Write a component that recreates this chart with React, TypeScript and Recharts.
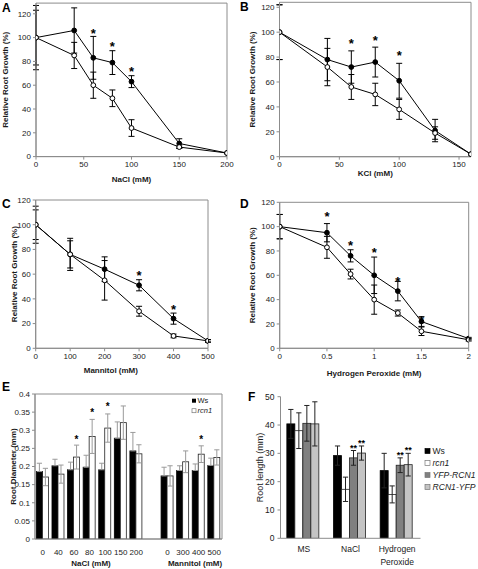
import React from "react";
import {
  Bar,
  BarChart,
  ErrorBar,
  Line,
  LineChart,
  ReferenceArea,
  XAxis,
  YAxis,
} from "recharts";

const FONT = "'Liberation Sans', Arial, Helvetica, sans-serif";
const AXIS = "#8c8c8c";
const INK = "#1a1a1a";

// A: NaCl dose response
const naclDose = [0, 40, 60, 80, 100, 150, 200];
const naclWs = [100, 106, 83, 79, 63, 11, 3];
const naclWsSd = [27, 19, 18, 10, 5, 4, 0];
const naclRcn = [100, 85, 60, 49, 24, 8, 3];
const naclRcnSd = [23, 11, 11, 7, 7, 1, 0];
const naclStar = [null, null, 106, 95, 74, null, null];

// B: KCl dose response
const kclDose = [0, 40, 60, 80, 100, 130, 160];
const kclWs = [100, 78, 72, 76, 61, 21, 2];
const kclWsSd = [22, 17, 13, 12, 14, 9, 0];
const kclRcn = [100, 72, 56, 50, 38, 19, 2];
const kclRcnSd = [22, 15, 10, 9, 8, 5, 0];
const kclStar = [null, null, 93, 96, 84, null, null];

// C: Mannitol dose response
const mannDose = [0, 100, 200, 300, 400, 500];
const mannWs = [100, 76, 64, 51, 24, 6];
const mannWsSd = [15, 13, 10, 4.5, 4.5, 1];
const mannRcn = [100, 76, 55, 30, 10, 6];
const mannRcnSd = [12, 11, 16, 4, 1.5, 1];
const mannStar = [null, null, null, 61, 34, null];

// D: hydrogen peroxide dose response
const h2o2Dose = [0, 0.5, 0.75, 1, 1.25, 1.5, 2];
const h2o2Ws = [100, 95, 76, 60, 47, 22, 8];
const h2o2WsSd = [10, 7.5, 5, 15, 8, 4, 1];
const h2o2Rcn = [100, 83, 61, 40, 29, 14, 7];
const h2o2RcnSd = [10, 9, 4, 12, 2.5, 3.5, 1];
const h2o2Star = [null, 111, 87, 81, 57, 25.5, null];

const growthTicks = [0, 20, 40, 60, 80, 100, 120];

// E: root diameter
const diamLabels = ["0", "40", "60", "80", "100", "150", "200", "", "0", "300", "400", "500"];
const diamWs = [0.186, 0.202, 0.191, 0.198, 0.191, 0.278, 0.243, null, 0.174, 0.189, 0.189, 0.203];
const diamWsSd = [0.023, 0.018, 0.021, 0.033, 0.018, 0.045, 0.051, null, 0.024, 0.013, 0.018, 0.02];
const diamRcn = [0.171, 0.179, 0.226, 0.283, 0.306, 0.321, 0.235, null, 0.174, 0.213, 0.234, 0.225];
const diamRcnSd = [0.024, 0.025, 0.033, 0.047, 0.039, 0.046, 0.025, null, 0.028, 0.03, 0.023, 0.021];
const diamStar = [null, null, 0.281, 0.354, 0.372, null, null, null, null, null, 0.281, null];
const diamTicks = [0, 0.05, 0.1, 0.15, 0.2, 0.25, 0.3, 0.35, 0.4];

// F: root length
const lenGroups = ["MS", "NaCl", "Hydrogen Peroxide"];
const lenWs = [40.4, 29.2, 23.9];
const lenWsSd = [5.1, 3.4, 6.1];
const lenRcn = [38.0, 17.3, 15.5];
const lenRcnSd = [6.3, 4.3, 3.0];
const lenYfp = [40.6, 28.4, 25.8];
const lenYfpSd = [6.3, 2.6, 2.6];
const lenYfpStar = [null, 32.7, 30.2];
const lenRyfp = [40.4, 30.1, 26.0];
const lenRyfpSd = [7.8, 2.5, 4.0];
const lenRyfpStar = [null, 34.5, 32.0];
const lenTicks = [0, 10, 20, 30, 40, 50];

function doseRows(
  dose: number[],
  ws: number[],
  wsSd: number[],
  rcn: number[],
  rcnSd: number[],
  star: (number | null)[]
) {
  return dose.map((x, i) => ({
    x,
    ws: ws[i],
    wsSd: wsSd[i],
    rcn: rcn[i],
    rcnSd: rcnSd[i],
    star: star[i],
  }));
}

// Ws error bars in E only show the upper half above the black bar
const diamRows = diamLabels.map((label, i) => ({
  label,
  ws: diamWs[i],
  wsSd: diamWsSd[i] == null ? null : [0, diamWsSd[i]],
  rcn: diamRcn[i],
  rcnSd: diamRcnSd[i],
  star: diamStar[i],
}));

const lenRows = lenGroups.map((label, i) => ({
  label,
  ws: lenWs[i],
  wsSd: lenWsSd[i],
  rcn: lenRcn[i],
  rcnSd: lenRcnSd[i],
  yfp: lenYfp[i],
  yfpSd: lenYfpSd[i],
  yfpStar: lenYfpStar[i],
  ryfp: lenRyfp[i],
  ryfpSd: lenRyfpSd[i],
  ryfpStar: lenRyfpStar[i],
}));

const StarDot = (props: any) => {
  const { cx, cy, value, index } = props;
  if (value == null || cx == null || cy == null || isNaN(cy)) return <g key={`s-${index}`} />;
  return (
    <text
      key={`s-${index}`}
      x={cx}
      y={cy + 7.5}
      textAnchor="middle"
      fontSize={13}
      fontWeight="bold"
      fill="#000"
    >
      *
    </text>
  );
};

// bar with an optional significance mark, placed through the bar's own scale
function markedBar(valueKey: string, starKey: string | null, mark: string, fontSize: number) {
  return (props: any) => {
    const { x, y, width, height, payload, fill, stroke } = props;
    const v = payload?.[valueKey];
    if (v == null || height == null || isNaN(height)) return <g />;
    const k = height / v;
    const s = starKey ? payload[starKey] : null;
    return (
      <g>
        <rect x={x} y={y} width={width} height={height} fill={fill} stroke={stroke} strokeWidth={0.8} />
        {s != null && (
          <text
            x={x + width / 2}
            y={y + height - s * k + fontSize * 0.58}
            textAnchor="middle"
            fontSize={fontSize}
            fontWeight="bold"
            fill="#000"
          >
            {mark}
          </text>
        )}
      </g>
    );
  };
}

interface DoseProps {
  left: number;
  top: number;
  rows: ReturnType<typeof doseRows>;
  margin: { top: number; right: number; bottom: number; left: number };
  yWidth: number;
  xHeight: number;
  yMax: number;
  xMax: number;
  xTicks: number[];
  xTitle: string;
  xTitleOffset: number;
  xTitleDx?: number;
  yTitleOffset: number;
}

function DoseChart(p: DoseProps) {
  return (
    <div style={{ position: "absolute", left: p.left, top: p.top }}>
      <LineChart width={239} height={190} data={p.rows} margin={p.margin}>
        <ReferenceArea y1={0} y2={p.yMax} fill="none" stroke={AXIS} strokeWidth={1} ifOverflow="visible" />
        <XAxis
          dataKey="x"
          type="number"
          domain={[0, p.xMax]}
          ticks={p.xTicks}
          allowDataOverflow
          height={p.xHeight}
          stroke={AXIS}
          tickSize={3}
          tickMargin={2}
          tick={{ fill: INK, fontSize: 8 }}
          label={{
            value: p.xTitle,
            position: "insideBottom",
            offset: p.xTitleOffset,
            dx: p.xTitleDx ?? 0,
            fill: INK,
            fontSize: 8,
            fontWeight: "bold",
          }}
        />
        <YAxis
          type="number"
          domain={[0, p.yMax]}
          ticks={growthTicks}
          allowDataOverflow
          width={p.yWidth}
          stroke={AXIS}
          tickSize={3}
          tickMargin={2}
          tick={{ fill: INK, fontSize: 8 }}
          label={{
            value: "Relative Root Growth (%)",
            angle: -90,
            position: "insideLeft",
            offset: p.yTitleOffset,
            style: { textAnchor: "middle" },
            fill: INK,
            fontSize: 8,
            fontWeight: "bold",
          }}
        />
        <Line
          dataKey="ws"
          stroke="#000"
          strokeWidth={1}
          dot={{ r: 2.4, fill: "#000", stroke: "#000", strokeWidth: 1 }}
          activeDot={false}
          isAnimationActive={false}
        >
          <ErrorBar dataKey="wsSd" width={3} stroke="#000" strokeWidth={1} />
        </Line>
        <Line
          dataKey="rcn"
          stroke="#000"
          strokeWidth={1}
          dot={{ r: 2.4, fill: "#fff", stroke: "#000", strokeWidth: 1 }}
          activeDot={false}
          isAnimationActive={false}
        >
          <ErrorBar dataKey="rcnSd" width={3} stroke="#000" strokeWidth={1} />
        </Line>
        <Line
          dataKey="star"
          stroke="none"
          dot={StarDot}
          activeDot={false}
          isAnimationActive={false}
        />
      </LineChart>
    </div>
  );
}

function GroupTick(props: any) {
  const { x, y, payload } = props;
  const words = String(payload.value).split(" ");
  return (
    <text x={x} y={y} textAnchor="middle" fill={INK} fontSize={8.5}>
      {words.map((w, i) => (
        <tspan key={i} x={x} dy={i === 0 ? "0.71em" : 12.5}>
          {w}
        </tspan>
      ))}
    </text>
  );
}

const diamRcnShape = markedBar("rcn", "star", "*", 10);
const diamWsShape = markedBar("ws", null, "", 10);
const lenWsShape = markedBar("ws", null, "", 9);
const lenRcnShape = markedBar("rcn", null, "", 9);
const lenYfpShape = markedBar("yfp", "yfpStar", "**", 9);
const lenRyfpShape = markedBar("ryfp", "ryfpStar", "**", 9);

const lenLegend = [
  { name: "Ws", fill: "#000", italic: false },
  { name: "rcn1", fill: "#fff", italic: true },
  { name: "YFP-RCN1", fill: "#808080", italic: true },
  { name: "RCN1-YFP", fill: "#c4c4c4", italic: true },
];

export default function App() {
  return (
    <div
      style={{
        position: "absolute",
        left: 0,
        top: 0,
        width: 478,
        height: 569,
        background: "#fff",
        overflow: "hidden",
        fontFamily: FONT,
      }}
    >
      <DoseChart
        left={0}
        top={0}
        rows={doseRows(naclDose, naclWs, naclWsSd, naclRcn, naclRcnSd, naclStar)}
        margin={{ top: 3.1, right: 12, bottom: 0, left: 0 }}
        yWidth={36}
        xHeight={33.4}
        yMax={129}
        xMax={200}
        xTicks={[0, 50, 100, 150, 200]}
        xTitle="NaCl (mM)"
        xTitleOffset={8}
        yTitleOffset={5.5}
      />
      <DoseChart
        left={239}
        top={0}
        rows={doseRows(kclDose, kclWs, kclWsSd, kclRcn, kclRcnSd, kclStar)}
        margin={{ top: 2.3, right: 7, bottom: 0, left: 0 }}
        yWidth={40.5}
        xHeight={33.3}
        yMax={124}
        xMax={160}
        xTicks={[0, 50, 100, 150]}
        xTitle="KCl (mM)"
        xTitleOffset={14.5}
        yTitleOffset={13}
      />
      <DoseChart
        left={0}
        top={188}
        rows={doseRows(mannDose, mannWs, mannWsSd, mannRcn, mannRcnSd, mannStar)}
        margin={{ top: 12, right: 31, bottom: 0, left: 0 }}
        yWidth={35.7}
        xHeight={29.7}
        yMax={120}
        xMax={500}
        xTicks={[0, 100, 200, 300, 400, 500]}
        xTitle="Mannitol (mM)"
        xTitleOffset={5.2}
        xTitleDx={-11}
        yTitleOffset={14.5}
      />
      <DoseChart
        left={239}
        top={188}
        rows={doseRows(h2o2Dose, h2o2Ws, h2o2WsSd, h2o2Rcn, h2o2RcnSd, h2o2Star)}
        margin={{ top: 14.3, right: 9.3, bottom: 0, left: 0 }}
        yWidth={40.7}
        xHeight={29.7}
        yMax={120}
        xMax={2}
        xTicks={[0, 0.5, 1, 1.5, 2]}
        xTitle="Hydrogen Peroxide (mM)"
        xTitleOffset={2}
        yTitleOffset={13.5}
      />

      {/* E: root diameter */}
      <div style={{ position: "absolute", left: 0, top: 378 }}>
        <BarChart
          width={239}
          height={191}
          data={diamRows}
          margin={{ top: 16, right: 17, bottom: 0, left: 0 }}
          barCategoryGap="9%"
          barGap={0}
        >
          <ReferenceArea y1={0} y2={0.4} fill="none" stroke={AXIS} strokeWidth={1} ifOverflow="visible" />
          <XAxis
            dataKey="label"
            interval={0}
            height={30}
            stroke={AXIS}
            tickLine={false}
            tickSize={3}
            tickMargin={7}
            tick={{ fill: INK, fontSize: 8 }}
          />
          <YAxis
            type="number"
            domain={[0, 0.4]}
            ticks={diamTicks}
            allowDataOverflow
            width={35}
            stroke={AXIS}
            tickSize={3}
            tickMargin={2}
            tick={{ fill: INK, fontSize: 8 }}
            label={{
              value: "Root Diameter (mm)",
              angle: -90,
              position: "insideLeft",
              offset: 13,
              style: { textAnchor: "middle" },
              fill: INK,
              fontSize: 8,
              fontWeight: "bold",
            }}
          />
          <Bar dataKey="ws" fill="#000" stroke="#000" shape={diamWsShape} isAnimationActive={false}>
            <ErrorBar dataKey="wsSd" width={2.6} stroke="#9a9a9a" strokeWidth={1} />
          </Bar>
          <Bar dataKey="rcn" fill="#fff" stroke="#222" shape={diamRcnShape} isAnimationActive={false}>
            <ErrorBar dataKey="rcnSd" width={2.6} stroke="#9a9a9a" strokeWidth={1} />
          </Bar>
        </BarChart>
      </div>

      {/* F: root length */}
      <div style={{ position: "absolute", left: 239, top: 378 }}>
        <BarChart
          width={239}
          height={191}
          data={lenRows}
          margin={{ top: 18.7, right: 57.5, bottom: 0, left: 0 }}
          barCategoryGap="13.6%"
          barGap={0}
        >
          <XAxis
            dataKey="label"
            interval={0}
            height={30.7}
            stroke={AXIS}
            tickLine={false}
            tickSize={3}
            tickMargin={5}
            tick={<GroupTick />}
          />
          <YAxis
            type="number"
            domain={[0, 50]}
            ticks={lenTicks}
            allowDataOverflow
            width={41.5}
            stroke={AXIS}
            tickSize={3}
            tickMargin={3}
            tick={{ fill: INK, fontSize: 8.5 }}
            label={{
              value: "Root length (mm)",
              angle: -90,
              position: "insideLeft",
              offset: 21,
              style: { textAnchor: "middle" },
              fill: INK,
              fontSize: 9,
            }}
          />
          <Bar dataKey="ws" fill="#000" stroke="#000" shape={lenWsShape} isAnimationActive={false}>
            <ErrorBar dataKey="wsSd" width={2.6} stroke="#222" strokeWidth={1} />
          </Bar>
          <Bar dataKey="rcn" fill="#fff" stroke="#222" shape={lenRcnShape} isAnimationActive={false}>
            <ErrorBar dataKey="rcnSd" width={2.6} stroke="#222" strokeWidth={1} />
          </Bar>
          <Bar dataKey="yfp" fill="#808080" stroke="#222" shape={lenYfpShape} isAnimationActive={false}>
            <ErrorBar dataKey="yfpSd" width={2.6} stroke="#222" strokeWidth={1} />
          </Bar>
          <Bar dataKey="ryfp" fill="#c4c4c4" stroke="#222" shape={lenRyfpShape} isAnimationActive={false}>
            <ErrorBar dataKey="ryfpSd" width={2.6} stroke="#222" strokeWidth={1} />
          </Bar>
        </BarChart>
      </div>

      {/* panel letters, group titles and legends */}
      <svg
        width={478}
        height={569}
        style={{ position: "absolute", left: 0, top: 0, pointerEvents: "none" }}
        fontFamily={FONT}
      >
        <g fontSize={12} fontWeight="bold" fill="#000">
          <text x={2} y={12}>A</text>
          <text x={240} y={10.5}>B</text>
          <text x={2} y={208}>C</text>
          <text x={240} y={208}>D</text>
          <text x={2} y={391}>E</text>
          <text x={248} y={401}>F</text>
        </g>
        <g fontSize={8} fontWeight="bold" fill={INK} textAnchor="middle">
          <text x={91} y={565.5}>NaCl (mM)</text>
          <text x={195} y={565.5}>Mannitol (mM)</text>
        </g>
        <g fontSize={7.5} fill={INK}>
          <rect x={192} y={398.7} width={4} height={4} fill="#000" />
          <text x={197.5} y={403.4}>Ws</text>
          <rect x={192} y={408.7} width={4} height={4} fill="#fff" stroke="#777" strokeWidth={0.7} />
          <text x={197.5} y={413.4} fontStyle="italic">rcn1</text>
        </g>
        <g fontSize={8.6} fill={INK}>
          {lenLegend.map((item, i) => (
            <g key={item.name}>
              <rect
                x={425}
                y={448.5 + i * 12}
                width={5}
                height={5}
                fill={item.fill}
                stroke={item.fill === "#000" ? "#000" : "#777"}
                strokeWidth={0.7}
              />
              <text x={432.5} y={454.2 + i * 12} fontStyle={item.italic ? "italic" : "normal"}>
                {item.name}
              </text>
            </g>
          ))}
        </g>
      </svg>
    </div>
  );
}
